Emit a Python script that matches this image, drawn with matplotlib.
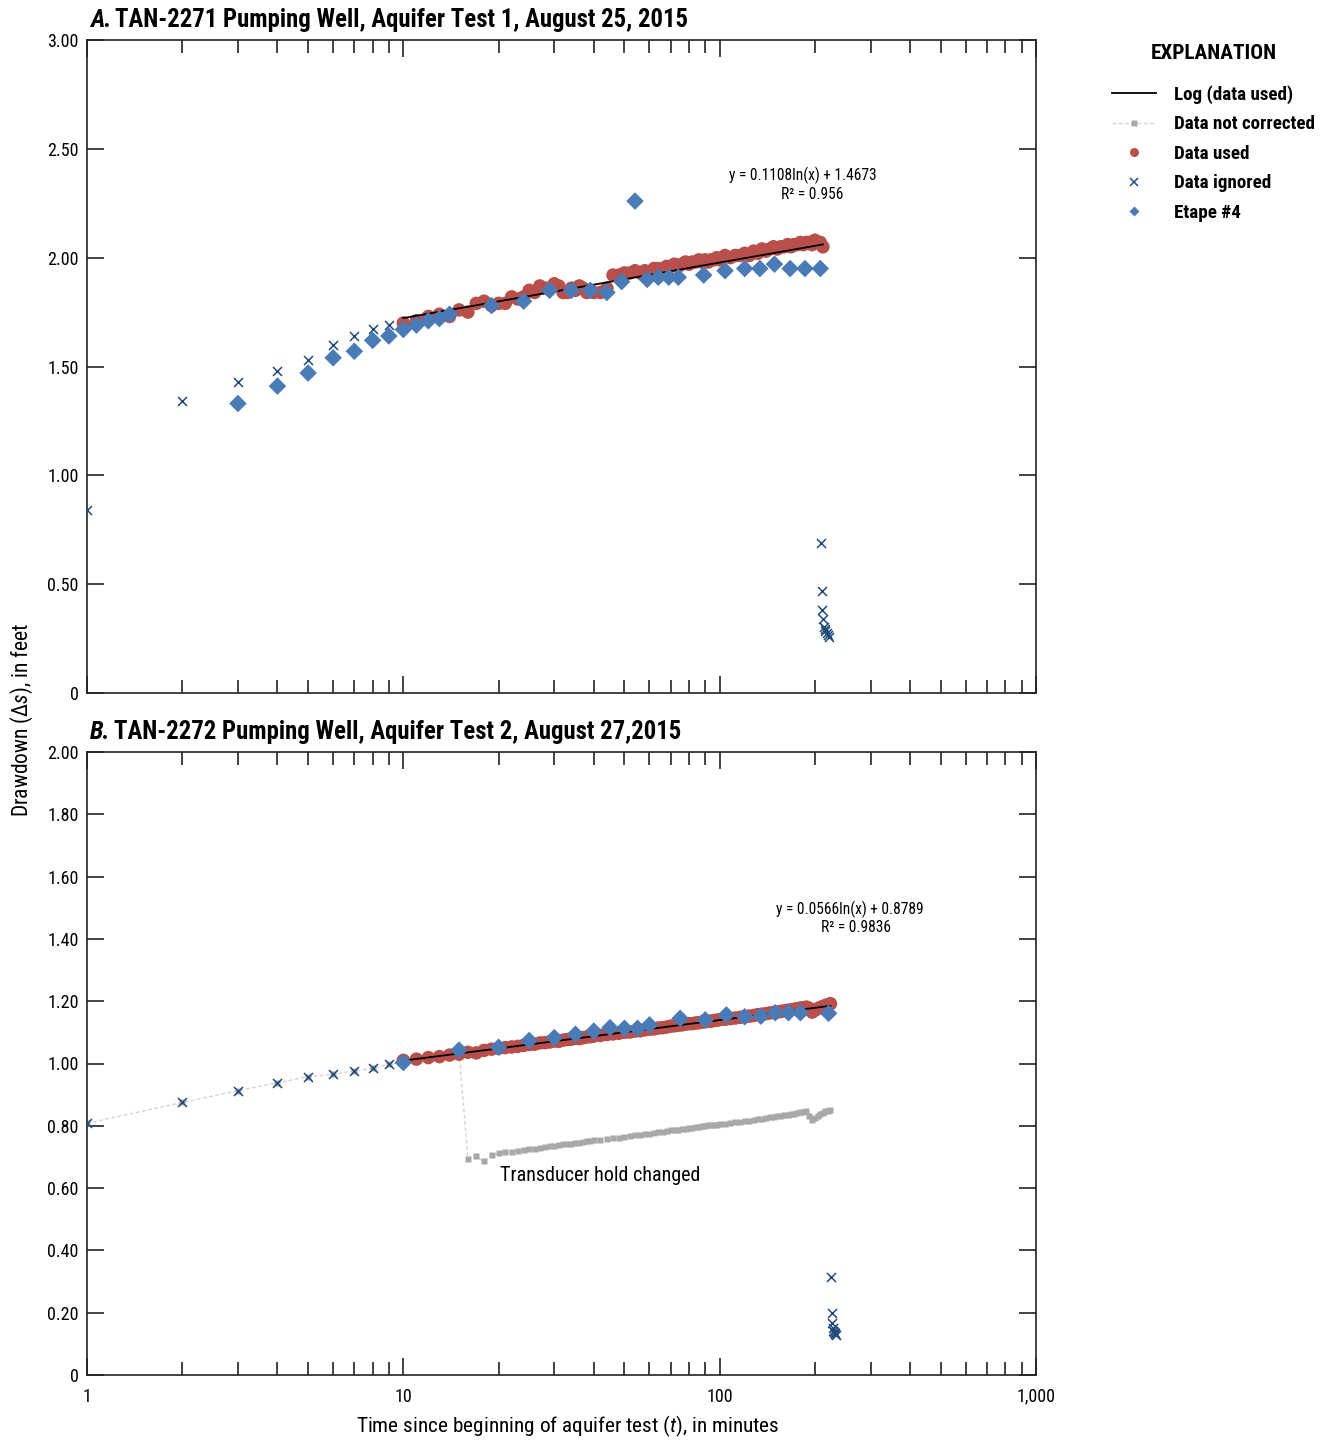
import numpy as np
import matplotlib
matplotlib.use("Agg")
import matplotlib.pyplot as plt
from matplotlib.lines import Line2D
from matplotlib.ticker import FixedLocator, FuncFormatter, LogLocator, NullFormatter, MultipleLocator

plt.rcParams['font.family'] = ['Roboto Condensed', 'DejaVu Sans']
plt.rcParams['mathtext.fontset'] = 'custom'
plt.rcParams['mathtext.rm'] = 'Roboto Condensed'
plt.rcParams['mathtext.it'] = 'Roboto Condensed:italic'

RED = '#b94f4a'
BLUE = '#4a7bb7'
NAVY = '#1f4a7a'
GREY = '#a8a8a8'

## ---------- panel A : TAN-2271 ----------
a_ign_t = [1, 2, 3, 4, 5, 6, 7, 8, 9, 209, 210, 211, 212, 213, 215, 216, 218, 220, 222]
a_ign_s = [0.84, 1.34, 1.43, 1.48, 1.53, 1.60, 1.64, 1.67, 1.69,
           0.69, 0.47, 0.38, 0.34, 0.305, 0.295, 0.285, 0.275, 0.265, 0.258]

a_et_t = [3, 4, 5, 6, 7, 8, 9, 10, 11, 12, 13, 14,
          19, 24, 29, 34, 39, 44, 49, 54, 59, 64, 69, 74,
          89, 104, 120, 134, 149, 167, 186, 208]
a_et_s = [1.33, 1.41, 1.47, 1.54, 1.57, 1.62, 1.64, 1.67, 1.69, 1.71, 1.72, 1.74,
          1.78, 1.80, 1.85, 1.85, 1.85, 1.84, 1.89, 2.26, 1.90, 1.91, 1.91, 1.91,
          1.92, 1.94, 1.95, 1.95, 1.97, 1.95, 1.95, 1.95]

a_used_t = list(range(10, 41)) + list(range(42, 101, 2)) + list(range(104, 213, 4))
a_used_s = [1.70, 1.71, 1.73, 1.74, 1.73, 1.76, 1.75, 1.79, 1.80, 1.78,
            1.79, 1.79, 1.82, 1.81, 1.82, 1.85, 1.84, 1.87, 1.86, 1.86,
            1.88, 1.87, 1.84, 1.84, 1.86, 1.85, 1.87, 1.86, 1.84, 1.85, 1.84,
            # every 2 min
            1.84, 1.86, 1.92, 1.92, 1.93, 1.93, 1.94, 1.93, 1.94, 1.93,
            1.95, 1.95, 1.94, 1.96, 1.96, 1.97, 1.96, 1.97, 1.98, 1.97,
            1.98, 1.98, 1.99, 1.98, 1.99, 1.98, 1.99, 1.99, 2.00, 1.99,
            # every 4 min
            2.01, 2.00, 2.01, 2.01, 2.02, 2.01, 2.03, 2.02, 2.04, 2.03,
            2.04, 2.05, 2.04, 2.05, 2.05, 2.06, 2.05, 2.06, 2.06, 2.07,
            2.06, 2.07, 2.07, 2.06, 2.08, 2.07, 2.07, 2.05]
a_fit = (0.1108, 1.4673, 10, 212)   # slope, intercept, t range

## ---------- panel B : TAN-2272 ----------
b_ign_t = [1, 2, 3, 4, 5, 6, 7, 8, 9, 225, 226, 227, 228, 229, 230, 231, 232, 233]
b_ign_s = [0.808, 0.875, 0.913, 0.938, 0.958, 0.965, 0.977, 0.984, 0.998,
           0.314, 0.198, 0.166, 0.150, 0.142, 0.139, 0.136, 0.133, 0.130]

b_et_t = [10, 15, 20, 25, 30, 35, 40, 45, 50, 55, 60, 75, 90, 105, 120, 135, 150, 165, 180, 221]
b_et_s = [1.003, 1.043, 1.052, 1.074, 1.083, 1.094, 1.104, 1.115, 1.113, 1.113,
          1.124, 1.145, 1.140, 1.156, 1.150, 1.152, 1.163, 1.163, 1.163, 1.161]

b_used_t = list(range(10, 41)) + list(range(42, 101, 2)) + list(range(104, 225, 4))
b_used_s = [1.010, 1.014, 1.019, 1.022, 1.027, 1.030, 1.036, 1.034, 1.042, 1.046,
            1.049, 1.051, 1.053, 1.055, 1.058, 1.061, 1.062, 1.066, 1.067, 1.069,
            1.072, 1.071, 1.075, 1.077, 1.078, 1.081, 1.080, 1.083, 1.085, 1.086, 1.088,
            1.090, 1.093, 1.095, 1.097, 1.100, 1.101, 1.104, 1.105, 1.108, 1.110,
            1.111, 1.114, 1.115, 1.117, 1.120, 1.121, 1.123, 1.124, 1.126, 1.128,
            1.128, 1.130, 1.131, 1.133, 1.134, 1.136, 1.136, 1.138, 1.139, 1.141,
            1.142, 1.144, 1.146, 1.148, 1.151, 1.152, 1.154, 1.157, 1.158, 1.160,
            1.162, 1.164, 1.165, 1.167, 1.169, 1.171, 1.172, 1.174, 1.176, 1.178,
            1.179, 1.181, 1.177, 1.165, 1.171, 1.176, 1.180, 1.183, 1.186, 1.189, 1.192]

b_raw_t = list(range(1, 41)) + list(range(42, 101, 2)) + list(range(104, 225, 4))
b_raw_s = [0.808, 0.875, 0.913, 0.938, 0.958, 0.965, 0.977, 0.984, 0.998, 1.003,
           1.014, 1.019, 1.022, 1.027, 1.040,
           0.693, 0.702, 0.686, 0.706, 0.712, 0.715, 0.717, 0.719, 0.722, 0.725,
           0.727, 0.730, 0.731, 0.734, 0.736, 0.737, 0.740, 0.742, 0.743, 0.745,
           0.746, 0.748, 0.750, 0.752, 0.753,
           0.755, 0.758, 0.760, 0.762, 0.765, 0.766, 0.769, 0.770, 0.773, 0.775,
           0.776, 0.779, 0.780, 0.782, 0.785, 0.786, 0.788, 0.789, 0.791, 0.793,
           0.793, 0.795, 0.796, 0.798, 0.799, 0.801, 0.801, 0.803, 0.804, 0.806,
           0.807, 0.809, 0.811, 0.813, 0.816, 0.817, 0.819, 0.822, 0.823, 0.825,
           0.827, 0.829, 0.830, 0.832, 0.834, 0.836, 0.837, 0.839, 0.841, 0.843,
           0.844, 0.846, 0.832, 0.820, 0.826, 0.831, 0.838, 0.842, 0.846, 0.849, 0.852]
b_fit = (0.0566, 0.8789, 10, 224)

fig = plt.figure(figsize=(13.3, 14.42), dpi=100)
W, H = 1330., 1442.
axA = fig.add_axes([87/W, 1-693/H, 949/W, 653/H])
axB = fig.add_axes([87/W, 1-1375/H, 949/W, 623/H])


def style_axis(ax, ymax, ystep, xlabels):
    ax.set_xscale('log')
    ax.set_xlim(1, 1000)
    ax.set_ylim(0, ymax)
    ax.yaxis.set_major_locator(MultipleLocator(ystep))
    ax.yaxis.set_major_formatter(FuncFormatter(lambda v, p: '0' if abs(v) < 1e-9 else '%.2f' % v))
    ax.xaxis.set_major_locator(FixedLocator([1, 10, 100, 1000]))
    ax.xaxis.set_minor_locator(LogLocator(base=10, subs=np.arange(2, 10)))
    ax.xaxis.set_minor_formatter(NullFormatter())
    if xlabels:
        ax.xaxis.set_major_formatter(FuncFormatter(lambda v, p: '{:,.0f}'.format(v)))
    else:
        ax.xaxis.set_major_formatter(NullFormatter())
    ax.tick_params(which='major', direction='in', top=True, right=True, length=12, width=1.2,
                   labelsize=13, pad=6, color='#222222')
    ax.tick_params(which='minor', direction='in', top=True, right=True, length=9.5, width=1.2,
                   color='#222222')
    ax.tick_params(axis='x', which='major', pad=9)
    for s in ax.spines.values():
        s.set_linewidth(1.2)
        s.set_color('#222222')


def fit_line(ax, fit):
    a, b, t0, t1 = fit
    tt = np.geomspace(t0, t1, 60)
    ax.plot(tt, a*np.log(tt) + b, color='black', lw=1.3, zorder=4)


## panel A
style_axis(axA, 3.0, 0.5, False)
axA.scatter(a_used_t, a_used_s, s=95, color=RED, edgecolors='none', zorder=3)
fit_line(axA, a_fit)
axA.scatter(a_et_t, a_et_s, s=80, marker='D', color=BLUE, edgecolors='none', zorder=5)
axA.scatter(a_ign_t, a_ign_s, s=42, marker='x', color=NAVY, linewidths=1.1, zorder=6)
axA.text(183, 2.379, 'y = 0.1108ln(x) + 1.4673', ha='center', va='center', fontsize=11.2)
axA.text(196, 2.292, 'R² = 0.956', ha='center', va='center', fontsize=11.2)

## panel B
style_axis(axB, 2.0, 0.2, True)
axB.plot(b_raw_t, b_raw_s, color='#cfcfcf', lw=0.9, ls=(0, (3, 2)), marker='s', ms=4.5,
         mfc=GREY, mec='none', zorder=2)
axB.scatter(b_used_t, b_used_s, s=95, color=RED, edgecolors='none', zorder=3)
fit_line(axB, b_fit)
axB.scatter(b_et_t, b_et_s, s=80, marker='D', color=BLUE, edgecolors='none', zorder=5)
axB.scatter(b_ign_t, b_ign_s, s=42, marker='x', color=NAVY, linewidths=1.1, zorder=6)
axB.text(257, 1.496, 'y = 0.0566ln(x) + 0.8789', ha='center', va='center', fontsize=11.2)
axB.text(270, 1.435, 'R² = 0.9836', ha='center', va='center', fontsize=11.2)
axB.text(42, 0.639, 'Transducer hold changed', ha='center', va='center', fontsize=14.5)

## panel titles
for ax, letter, title in [(axA, 'A.', 'TAN-2271 Pumping Well, Aquifer Test 1, August 25, 2015'),
                          (axB, 'B.', 'TAN-2272 Pumping Well, Aquifer Test 2, August 27,2015')]:
    t1 = ax.annotate(letter, xy=(0, 1), xycoords='axes fraction', xytext=(2, 14.4),
                     textcoords='offset points', ha='left', va='center',
                     fontsize=17.8, fontweight='bold', fontstyle='italic')
    ax.annotate(title, xy=(1, 0), xycoords=t1, xytext=(3, 0), textcoords='offset points',
                ha='left', va='bottom', fontsize=17.8, fontweight='bold')

## axis labels
fig.text(22/W, 1-720/H, r'Drawdown (Δ$\it{s}$), in feet', rotation=90, ha='center', va='center', fontsize=15.5)
fig.text(568/W, 1-1426/H, r'Time since beginning of aquifer test ($\it{t}$), in minutes',
         ha='center', va='center', fontsize=15.3)

## explanation
handles = [
    Line2D([], [], color='black', lw=1.3),
    Line2D([], [], color='#cfcfcf', lw=0.9, ls=(0, (3, 2)), marker='s', ms=4.5, mfc=GREY, mec='none'),
    Line2D([], [], ls='none', marker='o', ms=6.5, color=RED, mec='none'),
    Line2D([], [], ls='none', marker='x', ms=6, color=NAVY, mew=1.1),
    Line2D([], [], ls='none', marker='D', ms=5, color=BLUE, mec='none'),
]
labels = ['Log (data used)', 'Data not corrected', 'Data used', 'Data ignored', 'Etape #4']
leg = fig.legend(handles, labels, loc='upper left', bbox_to_anchor=(1112/W, 1-44/H),
                 frameon=False, borderaxespad=0, borderpad=0, handlelength=2.3, handletextpad=0.95,
                 labelspacing=0.6, title='EXPLANATION',
                 title_fontproperties={'weight': 'bold', 'size': 15.3},
                 prop={'weight': 'bold', 'size': 13.7})
leg._legend_box.sep = 16

fig.savefig('out.png', dpi=100)
